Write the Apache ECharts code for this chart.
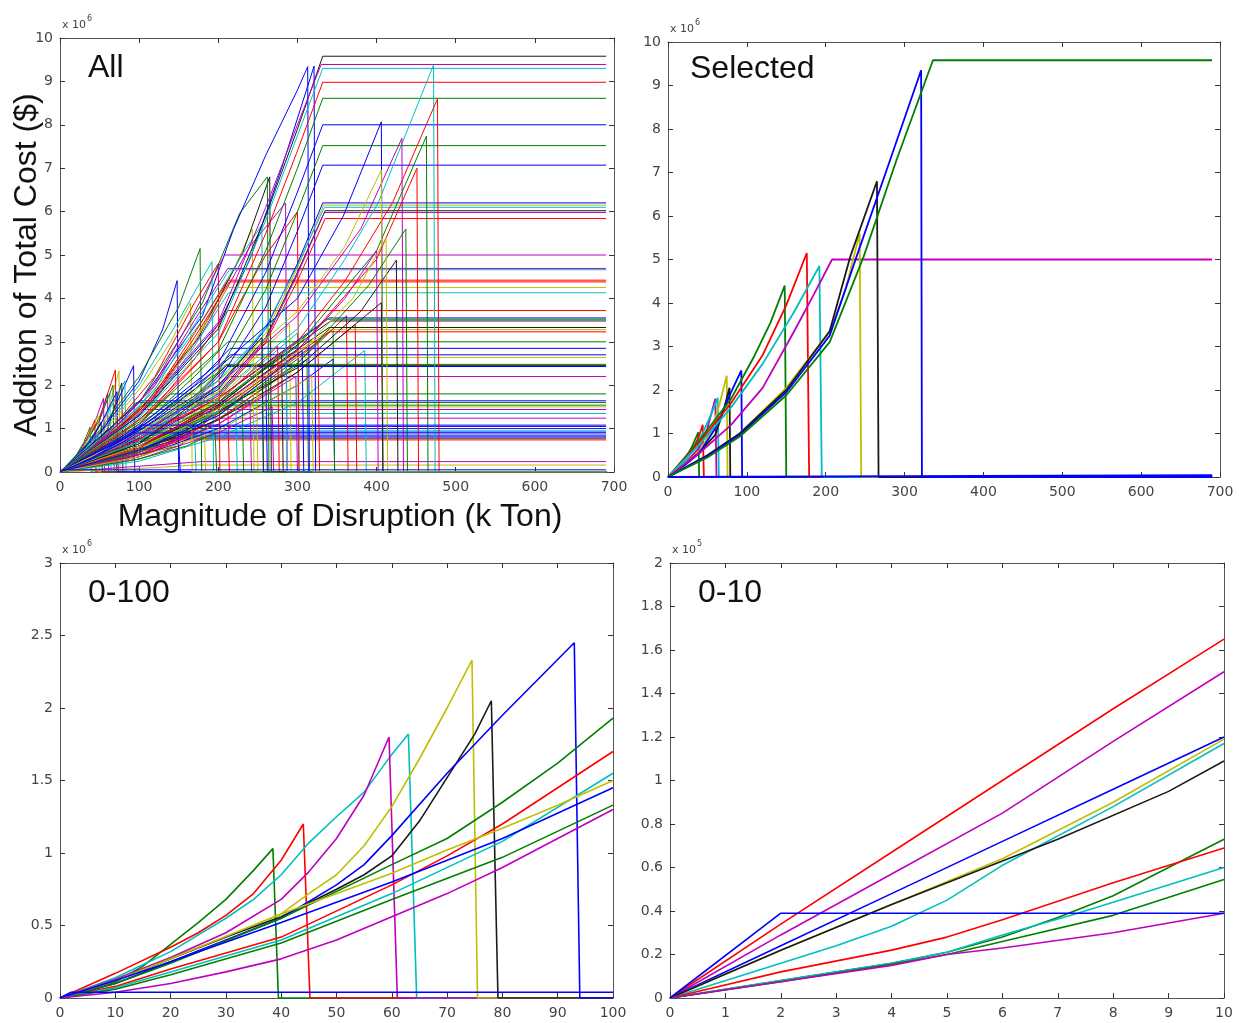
<!DOCTYPE html>
<html><head><meta charset="utf-8">
<script src="https://cdn.jsdelivr.net/npm/echarts/dist/echarts.min.js"></script>
<style>html,body{margin:0;padding:0;background:#fff;}#c{width:1239px;height:1023px;}</style>
</head><body><div id="c"></div>
<script>
// ---------------- DATA (x: k Ton, y: cost in units of the axis multiplier) ----------------
// Panel "All" (y in 1e6 $)
const allLines = [
 // early small curves that drop
 [[0,0],[15,0.22],[30,0.68],[38,1.03],[39.5,0],[690,0]],
 [[0,0],[15,0.26],[30,0.6],[44,1.2],[45.5,0],[690,0]],
 [[0,0],[20,0.28],[45,0.87],[60,1.8],[61.5,0],[690,0]],
 [[0,0],[20,0.32],[45,1.07],[63,1.82],[64.5,0],[690,0]],
 [[0,0],[30,0.42],[55,1.05],[74.5,2.33],[76,0],[690,0]],
 [[0,0],[30,0.42],[60,0.98],[78,2.05],[79.5,0],[690,0]],
 [[0,0],[30,0.4],[60,1.12],[93,2.45],[94.5,0],[690,0]],
 [[0,0],[25,0.45],[50,1.25],[70,2.35],[71.5,0],[690,0]],
 [[0,0],[25,0.45],[50,1.2],[67,2.0],[68.5,0],[690,0]],
 [[0,0],[20,0.35],[40,0.95],[55,1.7],[56.5,0],[690,0]],
 [[0,0],[20,0.3],[35,0.75],[48,1.3],[49.5,0],[690,0]],
 [[0,0],[30,0.55],[60,1.35],[82,2.1],[83.5,0],[690,0]],
 [[0,0],[20,0.3],[40,0.75],[52,1.15],[53.5,0],[690,0]],
 [[0,0],[25,0.4],[50,1.05],[72,1.85],[73.5,0],[690,0]],
 // low plateaus
 [[0,0],[30,0.4],[60,0.95],[100,1.64],[690,1.64]],
 [[0,0],[35,0.4],[70,0.95],[105,1.54],[690,1.54]],
 [[0,0],[35,0.45],[70,1.0],[102,1.5],[690,1.5]],
 [[0,0],[35,0.38],[70,0.9],[100,1.44],[690,1.44]],
 [[0,0],[40,0.4],[80,0.9],[110,1.35],[690,1.35]],
 [[0,0],[40,0.35],[80,0.8],[118,1.24],[690,1.24]],
 [[0,0],[40,0.35],[80,0.75],[100,1.0],[690,1.0]],
 [[0,0],[40,0.3],[80,0.7],[100,0.92],[690,0.92]],
 [[0,0],[40,0.3],[80,0.6],[105,0.85],[690,0.85]],
 [[0,0],[40,0.25],[80,0.5],[100,0.74],[690,0.74]],
 [[0,0],[40,0.25],[80,0.55],[100,0.78],[690,0.78]],
 [[0,0],[50,0.45],[100,1.1],[140,1.8],[690,1.8]],
 [[0,0],[50,0.3],[100,0.7],[120,0.95],[690,0.95]],
 [[0,0],[60,0.08],[120,0.16],[180,0.24],[690,0.24]],
 [[0,0],[60,0.05],[120,0.1],[170,0.16],[690,0.16]],
 [[0,0],[50,0.25],[100,0.6],[160,1.05],[690,1.05]],
 [[0,0],[40,0.3],[80,0.65],[150,0.81],[690,0.81]],
 // low curves dropping between 150 and 390
 [[0,0],[80,0.3],[150,0.65],[152,0],[690,0]],
 [[0,0],[100,0.45],[170,0.9],[172,0],[690,0]],
 [[0,0],[100,0.5],[182,1.3],[184,0],[690,0]],
 [[0,0],[100,0.45],[212,1.5],[214,0],[690,0]],
 [[0,0],[120,0.6],[230,1.8],[232,0],[690,0]],
 [[0,0],[120,0.5],[240,1.6],[242,0],[690,0]],
 [[0,0],[150,0.75],[260,2.2],[262,0],[690,0]],
 [[0,0],[150,0.8],[280,2.7],[282,0],[690,0]],
 [[0,0],[150,0.9],[300,3.2],[302,0],[690,0]],
 [[0,0],[150,0.6],[312,2.6],[314,0],[690,0]],
 [[0,0],[150,0.7],[326,3.0],[328,0],[690,0]],
 [[0,0],[150,0.9],[290,3.4],[292,0],[690,0]],
 [[0,0],[100,0.3],[200,0.9],[268,1.5],[270,0],[690,0]],
 [[0,0],[100,0.35],[200,1.0],[300,2.0],[345,2.6],[347,0],[690,0]],
 [[0,0],[100,0.25],[200,0.8],[300,1.6],[385,2.8],[387,0],[690,0]],
 [[0,0],[100,0.4],[200,1.2],[300,2.5],[362,3.6],[364,0],[690,0]],
 [[0,0],[100,0.35],[200,1.1],[300,2.3],[373,3.4],[375,0],[690,0]],
 [[0,0],[100,0.45],[200,1.3],[300,2.6],[345,3.3],[347,0],[690,0]],
 // mid curves dropping
 [[0,0],[50,0.9],[100,2.1],[130,3.3],[148,4.41],[150,0],[690,0]],
 [[0,0],[50,0.95],[100,2.2],[150,3.8],[177,5.15],[179,0],[690,0]],
 [[0,0],[50,0.85],[100,2.0],[150,3.5],[192,4.85],[194,0],[690,0]],
 [[0,0],[50,0.8],[100,1.9],[140,3.0],[165,3.9],[167,0],[690,0]],
 [[0,0],[60,0.9],[120,2.2],[170,3.9],[200,4.8],[202,0],[690,0]],
 [[0,0],[100,1.5],[170,3.0],[215,4.5],[243,5.6],[245,0],[690,0]],
 [[0,0],[100,1.4],[175,3.1],[231,5.06],[265,6.8],[267,0],[690,0]],
 [[0,0],[100,1.6],[180,3.9],[227,5.96],[262,6.8],[264,0],[690,0]],
 [[0,0],[100,1.5],[180,3.5],[230,5.0],[255,5.7],[257,0],[690,0]],
 [[0,0],[100,1.3],[180,3.2],[240,5.2],[285,6.2],[287,0],[690,0]],
 [[0,0],[100,1.1],[200,3.0],[260,5.0],[300,6.0],[302,0],[690,0]],
 [[0,0],[100,1.3],[200,3.4],[240,4.9],[280,7.0],[321,9.35],[323,0],[690,0]],
 [[0,0],[100,1.6],[180,3.6],[219,5.58],[260,7.3],[300,8.8],[313,9.34],[315,0],[690,0]],
 // plateaus reached near 210
 [[0,0],[40,0.55],[80,1.2],[120,2.05],[160,3.35],[185,4.2],[208,5.0],[690,5.0]],
 [[0,0],[60,0.85],[120,2.0],[170,3.5],[212,4.69],[690,4.69]],
 [[0,0],[60,0.8],[120,1.9],[170,3.4],[214,4.66],[690,4.66]],
 [[0,0],[60,0.8],[120,1.8],[170,3.2],[212,4.42],[690,4.42]],
 [[0,0],[60,0.75],[120,1.75],[170,3.1],[214,4.38],[690,4.38]],
 [[0,0],[60,0.75],[120,1.7],[170,3.0],[212,4.25],[690,4.25]],
 [[0,0],[60,0.7],[120,1.65],[170,2.9],[213,4.13],[690,4.13]],
 [[0,0],[60,0.65],[120,1.5],[170,2.6],[212,3.72],[690,3.72]],
 [[0,0],[60,0.55],[120,1.25],[170,2.0],[215,2.85],[690,2.85]],
 [[0,0],[60,0.5],[120,1.2],[170,1.9],[215,2.7],[690,2.7]],
 [[0,0],[60,0.5],[120,1.15],[170,1.85],[215,2.64],[690,2.64]],
 [[0,0],[60,0.45],[120,1.1],[170,1.75],[210,2.48],[690,2.48]],
 [[0,0],[60,0.45],[120,1.05],[170,1.7],[210,2.45],[690,2.45]],
 [[0,0],[60,0.4],[120,1.0],[170,1.65],[212,2.43],[690,2.43]],
 [[0,0],[60,0.4],[120,0.95],[170,1.5],[215,2.2],[690,2.2]],
 [[0,0],[60,0.6],[120,1.35],[170,2.2],[212,3.0],[690,3.0]],
 // plateaus reached near 340
 [[0,0],[100,0.7],[200,1.7],[290,2.9],[340,3.55],[690,3.55]],
 [[0,0],[100,0.65],[200,1.6],[290,2.85],[338,3.52],[690,3.52]],
 [[0,0],[100,0.6],[200,1.55],[290,2.8],[342,3.48],[690,3.48]],
 [[0,0],[100,0.55],[200,1.5],[290,2.7],[340,3.33],[690,3.33]],
 [[0,0],[100,0.55],[200,1.45],[290,2.65],[341,3.28],[690,3.28]],
 [[0,0],[100,0.5],[200,1.4],[290,2.6],[340,3.23],[690,3.23]],
 // top cluster plateaus reached near 332
 [[0,0],[100,1.3],[200,3.3],[260,5.9],[300,7.9],[332,9.58],[690,9.58]],
 [[0,0],[100,1.35],[200,3.45],[260,6.1],[300,8.0],[330,9.39],[690,9.39]],
 [[0,0],[100,1.25],[200,3.2],[260,5.8],[300,7.75],[332,9.3],[690,9.3]],
 [[0,0],[100,1.2],[200,3.0],[260,5.5],[300,7.4],[332,8.98],[690,8.98]],
 [[0,0],[100,1.15],[200,2.8],[260,5.1],[300,7.0],[332,8.61],[690,8.61]],
 [[0,0],[100,1.05],[200,2.5],[260,4.6],[300,6.45],[332,8.0],[690,8.0]],
 [[0,0],[100,1.0],[200,2.3],[260,4.2],[300,6.0],[332,7.52],[690,7.52]],
 [[0,0],[100,0.95],[200,2.1],[260,3.8],[300,5.55],[332,7.07],[690,7.07]],
 [[0,0],[100,0.9],[200,1.9],[260,3.3],[300,4.8],[332,6.2],[690,6.2]],
 [[0,0],[100,0.85],[200,1.85],[260,3.2],[300,4.7],[333,6.15],[690,6.15]],
 [[0,0],[100,0.9],[200,1.95],[260,3.35],[300,4.75],[334,6.1],[690,6.1]],
 [[0,0],[100,0.8],[200,1.8],[260,3.1],[300,4.6],[335,6.02],[690,6.02]],
 [[0,0],[100,0.85],[200,1.75],[260,3.05],[300,4.55],[334,5.98],[690,5.98]],
 [[0,0],[100,0.8],[200,1.7],[260,3.0],[300,4.4],[335,5.84],[690,5.84]],
 // right-side curves dropping between 400 and 480
 [[0,0],[100,0.8],[200,1.8],[300,3.3],[360,4.9],[402,6.2],[472,9.38],[474,0],[690,0]],
 [[0,0],[100,0.75],[200,1.7],[300,3.0],[360,4.4],[420,6.2],[477,8.6],[479,0],[690,0]],
 [[0,0],[100,1.0],[200,2.4],[300,4.0],[358,5.9],[406,8.07],[408,0],[690,0]],
 [[0,0],[100,0.85],[200,2.0],[300,3.6],[380,5.6],[432,7.69],[434,0],[690,0]],
 [[0,0],[100,0.7],[200,1.6],[300,2.9],[400,5.1],[463,7.74],[465,0],[690,0]],
 [[0,0],[100,0.9],[200,2.1],[300,3.7],[360,5.2],[406,6.96],[408,0],[690,0]],
 [[0,0],[100,0.6],[200,1.5],[300,2.8],[400,4.9],[451,7.0],[453,0],[690,0]],
 [[0,0],[100,0.6],[200,1.4],[300,2.4],[380,3.7],[425,4.88],[427,0],[690,0]],
 [[0,0],[100,0.55],[200,1.35],[300,2.5],[390,4.3],[437,5.6],[439,0],[690,0]],
 [[0,0],[100,0.6],[200,1.5],[300,2.8],[360,4.0],[400,5.1],[402,0],[690,0]],
 [[0,0],[100,0.55],[200,1.4],[300,2.7],[370,4.0],[412,5.4],[414,0],[690,0]],
 [[0,0],[100,0.5],[200,1.2],[300,2.3],[406,3.9],[408,0],[690,0]],
 // extra low curves
 [[0,0],[100,0.5],[200,1.4],[222,1.7],[224,0],[690,0]],
 [[0,0],[100,0.6],[200,1.7],[248,2.5],[250,0],[690,0]],
 [[0,0],[100,0.55],[200,1.6],[275,2.9],[277,0],[690,0]],
 [[0,0],[100,0.4],[200,1.1],[298,2.2],[300,0],[690,0]],
 [[0,0],[100,0.5],[200,1.3],[306,2.8],[308,0],[690,0]],
 [[0,0],[100,0.3],[160,0.6],[196,0.9],[198,0],[690,0]],
 [[0,0],[100,0.65],[200,2.0],[255,3.1],[257,0],[690,0]],
 [[0,0],[100,0.7],[200,2.1],[285,3.8],[287,0],[690,0]],
 [[0,0],[100,0.35],[200,0.95],[318,2.2],[320,0],[690,0]],
 [[0,0],[40,0.3],[80,0.7],[98,0.9],[690,0.9]],
 [[0,0],[40,0.32],[80,0.75],[102,1.08],[690,1.08]],
 [[0,0],[30,0.38],[60,0.92],[96,1.6],[690,1.6]],
 [[0,0],[2,0.05],[690,0.05]]
];
const allColors = 'grmcykbrgmyckb' + 'bgymcmbbbrkgcmybb' + 'bcyrgmbkcgrymbcrrg' + 'bgcyrykgcmrbb' + 'mmcrrycrbbygkbmg' + 'bgkkyr' + 'kmcrgbgbbyckmr' + 'crbmgyrkgmyk' + 'cyrmbgkcybbg' + 'b';

// Panel "Selected" (y in 1e6 $)
const selectedLines = [
 [[0,0],[10,0.11],[20,0.37],[30,0.68],[38.5,1.03],[39.5,0],[690,0]],
 [[0,0],[10,0.17],[20,0.35],[30,0.57],[40,0.97],[44,1.2],[45.5,0],[690,0]],
 [[0,0],[20,0.28],[40,0.68],[50,1.12],[60,1.8],[61.5,0],[690,0]],
 [[0,0],[20,0.32],[40,0.85],[55,1.45],[63,1.82],[64.5,0],[690,0]],
 [[0,0],[20,0.27],[40,0.6],[55,1.05],[65,1.65],[74.5,2.33],[75.5,0],[690,0]],
 [[0,0],[20,0.27],[40,0.57],[60,0.97],[70,1.5],[78,2.05],[79,0],[690,0]],
 [[0,0],[20,0.25],[40,0.55],[60,1.12],[80,1.95],[93,2.45],[94,0],[690,0]],
 [[0,0],[40,0.85],[80,1.8],[110,2.8],[130,3.55],[148,4.4],[150,0],[690,0]],
 [[0,0],[40,0.8],[80,1.7],[120,2.8],[150,3.95],[176,5.15],[179,0],[690,0]],
 [[0,0],[40,0.75],[80,1.6],[120,2.6],[160,3.8],[192,4.85],[195,0],[690,0]],
 [[0,0],[40,0.55],[80,1.2],[120,2.05],[160,3.35],[185,4.2],[208,5.0],[690,5.0]],
 [[0,0],[50,0.5],[91,1.0],[150,2.05],[205,3.35],[225,4.3],[243,5.6],[245,0],[690,0]],
 [[0,0],[50,0.5],[91,1.0],[150,2.0],[205,3.35],[231,5.06],[265,6.8],[267,0],[690,0]],
 [[0,0],[50,0.48],[91,0.97],[150,1.95],[205,3.25],[239,5.06],[280,7.2],[321,9.35],[322,0],[690,0]],
 [[0,0],[50,0.45],[91,0.93],[150,1.88],[205,3.1],[248,5.06],[290,7.3],[336,9.58],[690,9.58]],
 [[0,0],[2,0.04],[690,0.04]]
];
const selectedColors = 'grmcykbgrcmykbgb';

// Panel "0-100" (y in 1e6 $)
const zoom100Lines = [
 [[0,0],[5,0.04],[10,0.11],[15,0.22],[20,0.37],[25,0.52],[30,0.68],[35,0.88],[38.5,1.03],[39.5,0],[100,0]],
 [[0,0],[10,0.17],[20,0.35],[25,0.45],[30,0.57],[35,0.72],[40,0.95],[44,1.2],[45.2,0],[100,0]],
 [[0,0],[10,0.14],[20,0.32],[30,0.55],[35,0.68],[40,0.85],[45,1.07],[50,1.25],[55,1.42],[60,1.68],[63,1.82],[64.5,0],[100,0]],
 [[0,0],[10,0.13],[20,0.28],[30,0.45],[40,0.68],[45,0.87],[50,1.1],[55,1.4],[59.5,1.8],[61,0],[100,0]],
 [[0,0],[10,0.12],[20,0.27],[30,0.42],[40,0.58],[45,0.72],[50,0.85],[55,1.05],[60,1.32],[65,1.65],[70,2.0],[74.5,2.33],[75.5,0],[100,0]],
 [[0,0],[10,0.12],[20,0.27],[30,0.42],[40,0.56],[50,0.75],[55,0.85],[60,0.98],[65,1.22],[70,1.52],[75,1.82],[78,2.05],[79.2,0],[100,0]],
 [[0,0],[10,0.1],[20,0.25],[30,0.4],[40,0.55],[50,0.78],[55,0.92],[60,1.12],[70,1.55],[80,1.95],[93,2.45],[94,0],[100,0]],
 [[0,0],[10,0.1],[20,0.24],[40,0.55],[60,0.92],[70,1.1],[80,1.35],[90,1.62],[100,1.93]],
 [[0,0],[10,0.08],[20,0.2],[40,0.42],[60,0.78],[70,0.98],[80,1.2],[90,1.45],[100,1.7]],
 [[0,0],[10,0.07],[20,0.18],[40,0.4],[60,0.72],[80,1.08],[100,1.55]],
 [[0,0],[10,0.12],[20,0.27],[40,0.58],[60,0.86],[70,1.02],[80,1.17],[90,1.33],[100,1.5]],
 [[0,0],[10,0.12],[20,0.25],[40,0.52],[60,0.8],[80,1.1],[100,1.45]],
 [[0,0],[10,0.06],[20,0.16],[40,0.38],[60,0.68],[80,0.97],[100,1.33]],
 [[0,0],[10,0.04],[20,0.1],[30,0.18],[40,0.27],[50,0.4],[60,0.56],[70,0.72],[80,0.9],[90,1.1],[100,1.3]],
 [[0,0],[2,0.04],[100,0.04]]
];
const zoom100Colors = 'grcmykbgrcybgmb';

// Panel "0-10" (y in 1e5 $)
const zoom10Lines = [
 [[0,0],[2,0.34],[4,0.67],[6,1.0],[8,1.33],[10,1.65]],
 [[0,0],[2,0.29],[4,0.57],[6,0.85],[8,1.18],[10,1.5]],
 [[0,0],[2,0.24],[4,0.48],[6,0.72],[8,0.96],[10,1.2]],
 [[0,0],[2,0.22],[4,0.43],[6,0.64],[8,0.9],[10,1.19]],
 [[0,0],[2,0.16],[3,0.24],[4,0.33],[5,0.45],[6,0.61],[8,0.88],[10,1.17]],
 [[0,0],[2,0.22],[4,0.43],[6,0.63],[7,0.73],[9,0.95],[10,1.09]],
 [[0,0],[2,0.08],[4,0.16],[5,0.21],[6,0.28],[7,0.37],[8,0.47],[9,0.6],[10,0.73]],
 [[0,0],[2,0.12],[4,0.22],[5,0.28],[6,0.36],[8,0.53],[10,0.69]],
 [[0,0],[2,0.08],[4,0.16],[5,0.21],[6,0.29],[7.3,0.385],[8,0.44],[10,0.6]],
 [[0,0],[2,0.075],[4,0.155],[5,0.2],[6,0.26],[8,0.38],[10,0.545]],
 [[0,0],[2,0.075],[4,0.15],[5,0.2],[6,0.23],[8,0.3],[10,0.39]],
 [[0,0],[2,0.39],[10,0.39]]
];
const zoom10Colors = 'rmbyckgrcgmb';

// Tick / label texts
const panelTitles = ['All', 'Selected', '0-100', '0-10'];
const exponents = ['6', '6', '6', '5'];
const xAxisTitle = 'Magnitude of Disruption (k Ton)';
const yAxisTitle = 'Additon of Total Cost ($)';
const xRanges = [[0,700,100],[0,700,100],[0,100,10],[0,10,1]];
const yRanges = [[0,10,1],[0,10,1],[0,3,0.5],[0,2,0.2]];

// ---------------- CHART ----------------
const COL = {b:'#0000FF', g:'#008000', r:'#FF0000', c:'#00BFBF', m:'#BF00BF', y:'#BFBF00', k:'#1a1a1a'};
const grids = [
  {left:60, top:38, width:554, height:434},
  {left:668, top:42, width:552, height:435},
  {left:60, top:563, width:553, height:435},
  {left:670, top:563, width:554, height:435}
];
const panelLines = [allLines, selectedLines, zoom100Lines, zoom10Lines];
const panelColors = [allColors, selectedColors, zoom100Colors, zoom10Colors];
const lineWidths = [1, 1.8, 1.6, 1.6];

const tickFont = {color:'#444', fontSize:14, fontFamily:'DejaVu Sans'};
const axLine = {show:true, onZero:false, lineStyle:{color:'#555', width:1}};
const axTick = {show:true, inside:true, length:5, lineStyle:{color:'#333'}};
const fmt = v => String(Math.round(v*10)/10);

const xAxis = [], yAxis = [], series = [], graphic = [];
grids.forEach((g, i) => {
  const [x0,x1,xi] = xRanges[i], [y0,y1,yi] = yRanges[i];
  xAxis.push({gridIndex:i, type:'value', min:x0, max:x1, interval:xi, position:'bottom',
    axisLine:axLine, axisTick:axTick, splitLine:{show:false},
    axisLabel:Object.assign({show:true, margin:8, formatter:fmt}, tickFont)});
  xAxis.push({gridIndex:i, type:'value', min:x0, max:x1, interval:xi, position:'top',
    axisLine:axLine, axisTick:axTick, splitLine:{show:false}, axisLabel:{show:false}});
  yAxis.push({gridIndex:i, type:'value', min:y0, max:y1, interval:yi, position:'left',
    axisLine:axLine, axisTick:axTick, splitLine:{show:false},
    axisLabel:Object.assign({show:true, margin:7, formatter:fmt}, tickFont)});
  yAxis.push({gridIndex:i, type:'value', min:y0, max:y1, interval:yi, position:'right',
    axisLine:axLine, axisTick:axTick, splitLine:{show:false}, axisLabel:{show:false}});
  panelLines[i].forEach((pts, j) => {
    const c = COL[panelColors[i][j]] || COL.b;
    series.push({type:'line', xAxisIndex:2*i, yAxisIndex:2*i, data:pts, showSymbol:false, symbol:'none',
      color:c, lineStyle:{color:c, width:lineWidths[i]}, silent:true, animation:false});
  });
  // panel title
  graphic.push({type:'text', x:g.left + (i===1 ? 22 : 28), y:g.top + (i===1 ? 27 : 30),
    style:{text:panelTitles[i], fontSize:32, fontFamily:'Liberation Sans', fill:'#111',
      verticalAlign:'middle', textVerticalAlign:'middle'}});
  // exponent
  graphic.push({type:'text', x:g.left + 2, y:g.top - 13,
    style:{text:'x 10', fontSize:11, fontFamily:'DejaVu Sans', fill:'#444', verticalAlign:'middle', textVerticalAlign:'middle'}});
  graphic.push({type:'text', x:g.left + 27, y:g.top - 19,
    style:{text:exponents[i], fontSize:8, fontFamily:'DejaVu Sans', fill:'#444', verticalAlign:'middle', textVerticalAlign:'middle'}});
});
graphic.push({type:'text', x:340, y:517,
  style:{text:xAxisTitle, fontSize:32, fontFamily:'Liberation Sans', fill:'#111',
    align:'center', textAlign:'center', verticalAlign:'middle', textVerticalAlign:'middle'}});
graphic.push({type:'text', x:27, y:265, rotation:Math.PI/2,
  style:{text:yAxisTitle, fontSize:32, fontFamily:'Liberation Sans', fill:'#111',
    align:'center', textAlign:'center', verticalAlign:'middle', textVerticalAlign:'middle'}});

const chart = echarts.init(document.getElementById('c'), null, {renderer:'canvas'});
chart.setOption({animation:false, backgroundColor:'#fff', grid:grids, xAxis, yAxis, series, graphic});
</script></body></html>
